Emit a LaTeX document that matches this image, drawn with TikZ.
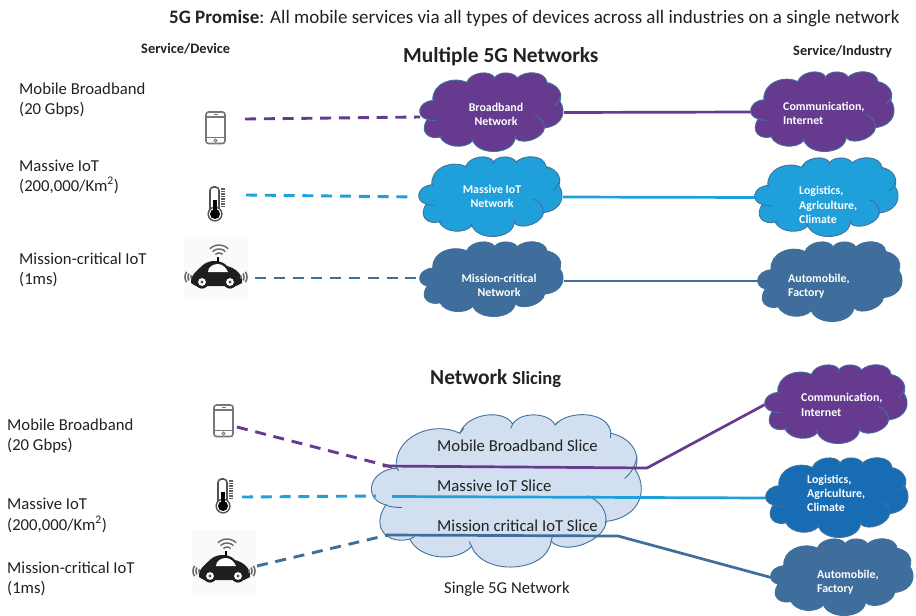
\documentclass[tikz,border=0pt]{standalone}
\usepackage{fontspec}
\setmainfont{Carlito}
\usetikzlibrary{calc}
\pgfdeclarelayer{conn}
\pgfsetlayers{conn,main}
\definecolor{cpurple}{HTML}{663A8E}
\definecolor{csky}{HTML}{1FA0DA}
\definecolor{csteel}{HTML}{3F6E9C}
\definecolor{cblue}{HTML}{176CB4}
\definecolor{cpale}{HTML}{D2DFF0}
\definecolor{cedge}{HTML}{41719C}
\definecolor{ctext}{HTML}{222222}
\definecolor{cicon}{HTML}{777777}
\tikzset{
  lbl/.style={anchor=base west,inner sep=0pt,text=ctext,font=\fontsize{16.7}{20}\selectfont},
  head/.style={anchor=base west,inner sep=0pt,text=ctext,font=\fontsize{14.4}{16}\selectfont\bfseries},
  ctxt/.style={anchor=base west,inner sep=0pt,text=white,font=\fontsize{11.9}{14}\selectfont\bfseries},
  ctxtc/.style={anchor=base,inner sep=0pt,text=white,font=\fontsize{11.9}{14}\selectfont\bfseries},
  slc/.style={anchor=base west,inner sep=0pt,text=ctext,font=\fontsize{16.7}{20}\selectfont},
  dashline/.style={line width=2.9pt,dash pattern=on 11pt off 7.8pt},
  solidline/.style={line width=2.7pt,line join=round},
  hitbox/.style={inner sep=0pt,outer sep=0pt,rectangle},
  cloudedge/.style={draw=cedge,line width=0.9pt},
}
% #1 name, #2-#5 x0,y0,x1,y1, #6 fill
\newcommand{\cloudat}[6]{%
  \node[hitbox,minimum width={(#4-#2)*1pt},minimum height={(#5-#3)*1pt}] (#1) at ({(#2+#4)/2},{(#3+#5)/2}) {};
  \begin{scope}[shift={(#2,#3)},xscale={(#4-#2)/811},yscale={(#5-#3)/460},shift={(-37,-45)}]
    \path[cloudedge,fill=#6] (110,205)
      .. controls (100,110) and (220,60) .. (300,100)
      .. controls (320,40) and (430,25) .. (458,72)
      .. controls (480,35) and (565,35) .. (585,75)
      .. controls (620,30) and (745,30) .. (752,100)
      .. controls (800,110) and (845,150) .. (825,210)
      .. controls (860,260) and (850,350) .. (738,365)
      .. controls (735,420) and (620,470) .. (573,425)
      .. controls (560,520) and (370,530) .. (335,440)
      .. controls (290,490) and (180,480) .. (150,418)
      .. controls (90,435) and (30,390) .. (78,315)
      .. controls (10,300) and (25,210) .. (110,205) -- cycle;
    \draw[cloudedge] (78,315) .. controls (90,322) and (110,323) .. (127,323);
    \draw[cloudedge] (110,200) .. controls (110,205) and (113,208) .. (117,212);
    \draw[cloudedge] (830,170) .. controls (825,200) and (810,222) .. (793,236);
    \draw[cloudedge] (680,288) .. controls (720,300) and (745,340) .. (735,372);
    \draw[cloudedge] (573,425) -- (578,405);
    \draw[cloudedge] (300,100) -- (312,85);
    \draw[cloudedge] (585,75) -- (595,65);
    \draw[cloudedge] (335,440) -- (328,425);
    \draw[cloudedge] (150,418) -- (165,410);
    \draw[cloudedge] (458,72) -- (452,85);
    \draw[cloudedge] (752,100) -- (752,115);
  \end{scope}}
\newcommand{\phoneat}[2]{%
  \begin{scope}[shift={(#1,#2)}]
    \draw[cicon,line width=1.6pt,fill=white,rounded corners=2.5pt] (0,0) rectangle (19,31.5);
    \draw[cicon,line width=1.1pt] (0,5) -- (19,5) (0,25.5) -- (19,25.5) (7.5,2.6) -- (11.5,2.6);
    \draw[cicon,line width=0.9pt] (9.5,28.5) circle[radius=1.6];
  \end{scope}}
\newcommand{\thermoat}[2]{%
  \begin{scope}[shift={(#1,#2)}]
    \draw[cicon!70!black,line width=1.6pt,fill=white,rounded corners=3.5pt] (3,26) -- (3,0) -- (12,0) -- (12,26) -- cycle;
    \fill[cicon!70!black] (8,27) circle[radius=7.6];
    \fill[white] (8,27) circle[radius=6];
    \fill[black] (8,27) circle[radius=5];
    \fill[black] (5.6,13) rectangle (10.4,26);
    \foreach \t in {2,4.5,7,9.5,12,14.5,17,19.5}{\draw[cicon!80!black,line width=1.4pt] (13.5,\t) -- (18,\t);}
  \end{scope}}
\newcommand{\carat}[2]{%
  \begin{scope}[shift={(#1,#2)}]
    \fill[black!2] (0,0) rectangle (64,63);
    \fill[black!88] (7,47) .. controls (6,39) and (14,34) .. (19,29) .. controls (26,23) and (38,24) .. (43,30) .. controls (51,32) and (59,38) .. (58,47) -- (52,50) -- (12,50) -- cycle;
    \fill[white] (24,36) .. controls (24,31) and (29,28) .. (34,28) .. controls (39,28) and (42,32) .. (44,36) -- cycle;
    \draw[black,line width=1.4pt] (34,26) -- (34,21);
    \fill[black!88] (18,46) circle[radius=6.6];
    \fill[black!88] (46,46) circle[radius=6.6];
    \fill[white] (18,46) circle[radius=3.9];
    \fill[white] (46,46) circle[radius=3.9];
    \fill[black!70] (18,46) circle[radius=1.6];
    \fill[black!70] (46,46) circle[radius=1.6];
    \foreach \r in {5,9,13}{\draw[black!60,line width=1.4pt] plot[smooth,domain=225:315,samples=7] ({35+\r*cos(\x)},{22+\r*sin(\x)});}
    \foreach \r in {3,6,9}{
      \draw[black!60,line width=1.5pt] plot[smooth,domain=145:215,samples=7] ({10+\r*cos(\x)},{41+\r*sin(\x)});
      \draw[black!60,line width=1.5pt] plot[smooth,domain=-35:35,samples=7] ({54+\r*cos(\x)},{41+\r*sin(\x)});
    }
  \end{scope}}
\begin{document}
\begin{tikzpicture}[x=1pt,y=-1pt]
\useasboundingbox (0,0) rectangle (916,616);

% --- clouds (main layer, above connectors)
\cloudat{c1}{420}{73}{564}{152}{cpurple}
\cloudat{c2}{419}{157}{563}{237}{csky}
\cloudat{c3}{420}{242}{564}{317}{csteel}
\cloudat{r1}{751}{72}{895}{152}{cpurple}
\cloudat{r2}{755}{158}{899}{237}{csky}
\cloudat{r3}{758}{242}{903}{322}{csteel}
\cloudat{q1}{765}{365}{908}{444}{cpurple}
\cloudat{q2}{766}{458}{909}{538}{cblue}
\cloudat{q3}{771}{539}{914}{616}{csteel}

% --- icons
\phoneat{206}{112}
\thermoat{207}{187}
\carat{184}{236}
\phoneat{214}{405}
\thermoat{215}{479}
\carat{192}{530}

% --- connector end points
\coordinate (a1) at (245,119);
\coordinate (a2) at (246,195);
\coordinate (a3) at (255,278);
\coordinate (b1) at (237,427);
\coordinate (b2) at (242,497);
\coordinate (b3) at (257,566);
\coordinate (s1) at (383,466);
\coordinate (s1b) at (647,468);
\coordinate (s2) at (392,496.5);
\coordinate (s3) at (386,535);
\coordinate (s3b) at (618,536);
\coordinate (t1) at (392,467);
\coordinate (t2) at (376,496);
\coordinate (t3) at (388,535);

\begin{pgfonlayer}{conn}
  \fill[white] (0,0) rectangle (916,616);
  \cloudat{big}{372}{415}{643}{568}{cpale}
  \draw[dashline,cpurple] (a1) -- ([yshift=-4.5pt]c1.west);
  \draw[dashline,csky,shorten >=11pt] (a2) -- (c2.west);
  \draw[dashline,csteel,shorten >=3pt] (a3) -- ([yshift=1.5pt]c3.west);
  \draw[solidline,cpurple] (c1.east) -- (r1.west);
  \draw[solidline,csky] (c2.east) -- (r2.west);
  \draw[solidline,csteel] ([yshift=-1.5pt]c3.east) -- ([yshift=1pt]r3.west);
  \draw[dashline,cpurple] (b1) -- (t1);
  \draw[dashline,csky] (b2) -- (t2);
  \draw[dashline,csteel] (b3) -- (t3);
  \draw[solidline,cpurple] (s1) -- (s1b) -- (q1.west);
  \draw[solidline,csky] (s2) -- (q2.west);
  \draw[solidline,csteel] (s3) -- (s3b) -- (q3.west);
\end{pgfonlayer}

% --- titles
\node[anchor=base west,inner sep=0pt,text=ctext,font=\fontsize{19}{22}\selectfont] (promise) at (169,23) {\textbf{5G Promise}: All mobile services via all types of devices across all industries on a single network};
\node[head] (hdev) at (141,53) {Service/Device};
\node[head] (hind) at (793,55) {Service/Industry};
\node[anchor=base west,inner sep=0pt,text=ctext,font=\fontsize{21.4}{24}\selectfont\bfseries] (multi) at (403,62) {Multiple 5G Networks};
\node[anchor=base west,inner sep=0pt,text=ctext,font=\fontsize{21.4}{24}\selectfont\bfseries] (slicing) at (430,384) {Network {\fontsize{18.5}{20}\selectfont Slicing}};

% --- left labels
\node[lbl] (l1a) at (19,94) {Mobile Broadband};
\node[lbl] (l1b) at (19,114) {(20 Gbps)};
\node[lbl] (l2a) at (19,171) {Massive IoT};
\node[lbl] (l2b) at (19,191) {(200,000/Km\textsuperscript{2})};
\node[lbl] (l3a) at (19,264) {Mission-critical IoT};
\node[lbl] (l3b) at (19,284) {(1ms)};
\node[lbl] (m1a) at (7,430) {Mobile Broadband};
\node[lbl] (m1b) at (7,450) {(20 Gbps)};
\node[lbl] (m2a) at (7,509) {Massive IoT};
\node[lbl] (m2b) at (7,530) {(200,000/Km\textsuperscript{2})};
\node[lbl] (m3a) at (7,573) {Mission-critical IoT};
\node[lbl] (m3b) at (7,593) {(1ms)};

% --- cloud texts
\node[ctxtc] (tc1a) at (496,111) {Broadband};
\node[ctxtc] (tc1b) at (496,125) {Network};
\node[ctxtc] (tc2a) at (492,193) {Massive IoT};
\node[ctxtc] (tc2b) at (492,207) {Network};
\node[ctxtc] (tc3a) at (499,282) {Mission-critical};
\node[ctxtc] (tc3b) at (499,296) {Network};
\node[ctxt] (tr1a) at (783,110) {Communication,};
\node[ctxt] (tr1b) at (783,124) {Internet};
\node[ctxt] (tr2a) at (799,194) {Logistics,};
\node[ctxt] (tr2b) at (799,209) {Agriculture,};
\node[ctxt] (tr2c) at (799,223) {Climate};
\node[ctxt] (tr3a) at (788,282) {Automobile,};
\node[ctxt] (tr3b) at (788,296) {Factory};
\node[ctxt] (tq1a) at (801,401) {Communication,};
\node[ctxt] (tq1b) at (801,416) {Internet};
\node[ctxt] (tq2a) at (807,483) {Logistics,};
\node[ctxt] (tq2b) at (807,497) {Agriculture,};
\node[ctxt] (tq2c) at (807,511) {Climate};
\node[ctxt] (tq3a) at (817,578) {Automobile,};
\node[ctxt] (tq3b) at (817,592) {Factory};

% --- slice texts
\node[slc] (sl1) at (437,451) {Mobile Broadband Slice};
\node[slc] (sl2) at (437,491) {Massive IoT Slice};
\node[slc] (sl3) at (437,531) {Mission critical IoT Slice};
\node[slc] (single) at (444,593) {Single 5G Network};
\end{tikzpicture}
\end{document}
